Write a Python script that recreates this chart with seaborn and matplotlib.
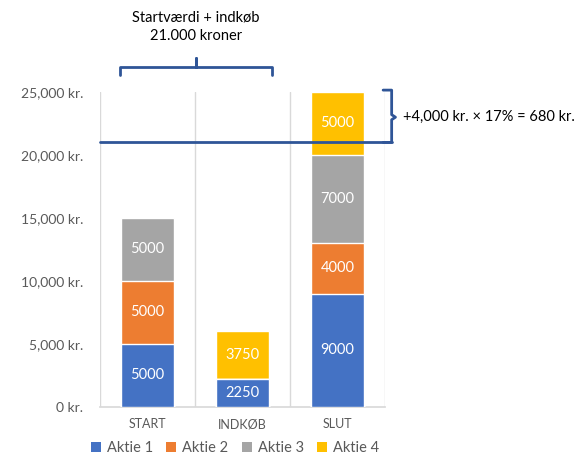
import numpy as np
import pandas as pd
import matplotlib.pyplot as plt
import seaborn as sns
from matplotlib.patches import Patch

# Data
categories = ['START', 'INDKØB', 'SLUT']
series_names = ['Aktie 1', 'Aktie 2', 'Aktie 3', 'Aktie 4']
aktie1 = [5000, 2250, 9000]
aktie2 = [5000, 0, 4000]
aktie3 = [5000, 0, 7000]
aktie4 = [0, 3750, 5000]
colors = ['#4472C4', '#ED7D31', '#A5A5A5', '#FFC000']
y_ticks = [0, 5000, 10000, 15000, 20000, 25000]
top_note = 'Startværdi + indkøb\n21.000 kroner'
side_note = '+4,000 kr. × 17% = 680 kr.'
threshold = 21000

sns.set_theme(style='white')
plt.rcParams['font.family'] = ['Lato', 'DejaVu Sans']

values = np.array([aktie1, aktie2, aktie3, aktie4])
cum = values.cumsum(axis=0)

fig = plt.figure(figsize=(5.8, 4.63), dpi=100)
ax = fig.add_axes([0.1724, 0.121, 0.4914, 0.6803])

# Stacked bars: draw the running totals from the top layer down
for i in range(len(series_names) - 1, -1, -1):
    df = pd.DataFrame({'cat': categories, 'val': cum[i]})
    sns.barplot(data=df, x='cat', y='val', color=colors[i], width=0.56,
                saturation=1, ax=ax, zorder=3)

# Segment labels
for i in range(len(series_names)):
    for j in range(len(categories)):
        v = values[i, j]
        if v > 0:
            ax.text(j, cum[i, j] - v / 2, str(v), ha='center', va='center',
                    color='white', fontsize=10.5, zorder=4)

ax.set_xlim(-0.5, 2.5)
ax.set_ylim(0, 25000)
ax.set_yticks(y_ticks)
ax.set_yticklabels([f'{t:,} kr.' for t in y_ticks], color='#595959', fontsize=10)
ax.set_xticks(range(len(categories)))
ax.set_xticklabels(categories, color='#595959', fontsize=9)
ax.set_xlabel('')
ax.set_ylabel('')
ax.tick_params(axis='x', length=0, pad=8)
ax.tick_params(axis='y', length=0, pad=12)
for s in ['top', 'right', 'left']:
    ax.spines[s].set_visible(False)
ax.spines['bottom'].set_color('#D9D9D9')

# Vertical separators between categories
for xv in [-0.5, 0.5, 1.5, 2.5]:
    ax.axvline(xv, color='#D9D9D9', lw=1, zorder=1)

# Annotations
lc = '#2F5597'
ax.plot([-0.5, 2.57], [threshold, threshold], color=lc, lw=2, clip_on=False, zorder=5)
ax.plot([2.48, 2.57, 2.57, 2.61, 2.57, 2.57, 2.48],
        [25150, 25150, 23200, 23000, 22800, threshold, threshold],
        color=lc, lw=2, clip_on=False, zorder=5, solid_joinstyle='round')
ax.text(2.69, 23000, side_note, ha='left', va='center', fontsize=10.5, color='black')

ax.plot([-0.29, -0.29, 0.51, 0.51, 0.51, 1.31, 1.31],
        [26350, 26980, 26980, 27700, 26980, 26980, 26350],
        color=lc, lw=2, clip_on=False, zorder=5, solid_joinstyle='round')
ax.text(0.51, 30200, top_note, ha='center', va='center', fontsize=10.5,
        color='black', linespacing=1.4)

# Legend
handles = [Patch(facecolor=c, edgecolor='none') for c in colors]
fig.legend(handles, series_names, loc='center', bbox_to_anchor=(235 / 580, 15 / 463),
           ncol=4, frameon=False, fontsize=10.5, handlelength=0.7, handleheight=0.7,
           handletextpad=0.4, columnspacing=0.9, labelcolor='#595959')

fig.savefig('out.png', dpi=100)
